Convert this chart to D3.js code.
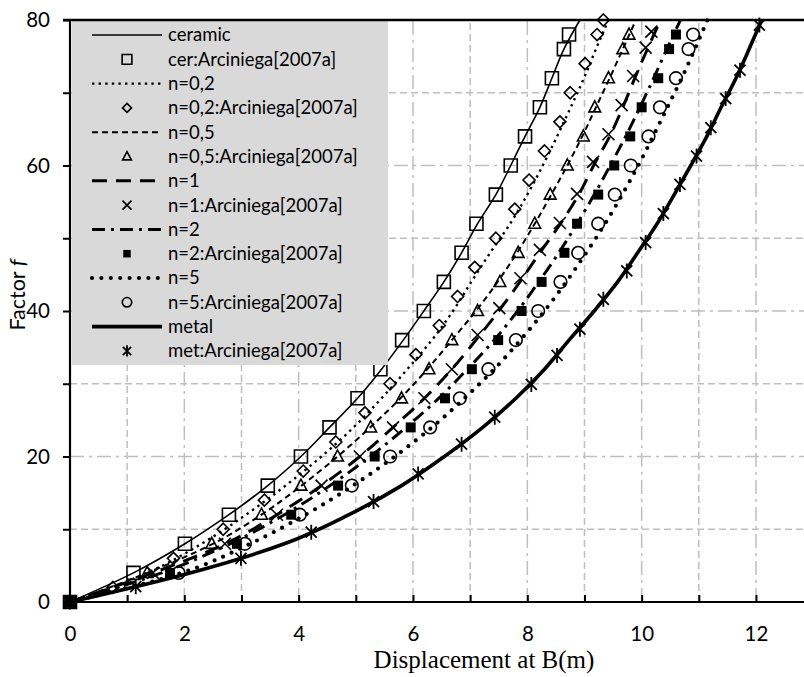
<!DOCTYPE html>
<html><head><meta charset="utf-8">
<script src="https://cdn.jsdelivr.net/npm/d3@7"></script>
<style>body{margin:0;background:#fff}svg{display:block}</style></head>
<body><svg id="c" width="804" height="677"></svg>
<script>
// ---------- data ----------
const lineF = [0,4,8,12,16,20,24,28,32,36,40,44,48,52,56,60,64,68,72,76,80];
const ceramicLineX = [0,1.11,2.01,2.78,3.46,4.04,4.54,5.03,5.45,5.83,6.19,6.54,6.85,7.13,7.45,7.71,7.96,8.22,8.43,8.64,8.92];
const n02LineX     = [0,1.35,2.3,3.08,3.77,4.4,4.96,5.45,5.9,6.33,6.7,7.02,7.35,7.7,8.0,8.27,8.52,8.76,8.99,9.2,9.42];
const n05LineX     = [0,1.35,2.5,3.35,4.05,4.68,5.25,5.78,6.25,6.68,7.1,7.48,7.82,8.13,8.42,8.7,8.96,9.2,9.44,9.67,9.9];
const n1LineX      = [0,1.45,2.72,3.62,4.4,5.07,5.65,6.2,6.68,7.1,7.5,7.87,8.22,8.58,8.9,9.16,9.44,9.67,9.88,10.1,10.33];
const n2LineX      = [0,1.6,2.8,3.75,4.55,5.25,5.88,6.45,6.95,7.42,7.83,8.2,8.55,8.87,9.17,9.45,9.72,9.97,10.21,10.44,10.68];
const n5LineX      = [0,1.95,3.15,4.12,4.95,5.68,6.33,6.9,7.42,7.88,8.3,8.68,9.03,9.36,9.66,9.94,10.2,10.45,10.7,10.93,11.15];
const metalLineX   = [0,2.1,3.75,4.88,5.8,6.55,7.22,7.8,8.3,8.73,9.17,9.58,9.93,10.27,10.57,10.86,11.14,11.39,11.65,11.88,12.1];

const cerMarkF = [0,4,8,12,16,20,24,28,32,36,40,44,48,52,56,60,64,68,72,76,78];
const cerMarkX = [0,1.11,2.01,2.78,3.46,4.04,4.54,5.03,5.43,5.81,6.19,6.54,6.85,7.11,7.45,7.71,7.96,8.22,8.43,8.64,8.73];
const n02MarkF = [0,2,6,10,14,18,22,26,30,34,38,42,46,50,54,58,62,66,70,74,78,80];
const n02MarkX = [0,0.75,1.81,2.68,3.4,4.08,4.65,5.16,5.6,6.05,6.46,6.78,7.08,7.45,7.78,8.03,8.3,8.57,8.75,9.01,9.22,9.33];
const n05MarkF = [0,4,8,12,16,20,24,28,32,36,40,44,48,52,56,60,64,68,72,76,78];
const n05MarkX = [0,1.35,2.48,3.35,4.04,4.68,5.26,5.8,6.28,6.68,7.13,7.52,7.84,8.13,8.4,8.7,8.98,9.18,9.42,9.67,9.78];
const n1MarkF  = [0,4,8,12,16,20,24,28,32,36.7,40.4,44.5,48.4,52.1,56.1,60.5,64.3,68.3,72.3,76.2,78.4];
const n1MarkX  = [0,1.45,2.71,3.62,4.4,5.07,5.65,6.2,6.68,7.13,7.51,7.88,8.22,8.57,8.87,9.15,9.42,9.65,9.85,10.07,10.17];
const n2MarkF  = [0,4,8,12,16,20,24,28,32,36,40,44,48,52,56,60,64,68,72,76,78];
const n2MarkX  = [0,1.75,2.92,3.87,4.69,5.33,5.96,6.56,7.03,7.49,7.9,8.25,8.65,8.87,9.24,9.52,9.8,10.0,10.29,10.48,10.6];
const n5MarkF  = [0,4,8,12,16,20,24,28,32,36,40,44,48,52,56,60,64,68,72,76,78];
const n5MarkX  = [0,1.9,3.06,4.02,4.93,5.6,6.3,6.82,7.32,7.8,8.19,8.58,8.89,9.24,9.53,9.81,10.12,10.32,10.6,10.82,10.9];
const metMarkF = [0,2.1,6.0,9.6,13.8,17.6,21.7,25.4,29.9,33.9,37.5,41.6,45.5,49.4,53.4,57.4,61.3,65.2,69.2,73.1,79.3];
const metMarkX = [0,1.15,2.99,4.22,5.31,6.09,6.85,7.43,8.07,8.52,8.92,9.33,9.74,10.07,10.38,10.67,10.96,11.21,11.47,11.72,12.06];

const xTickValues = [0,1,2,3,4,5,6,7,8,9,10,11,12];
const xTickLabels = ["0","","2","","4","","6","","8","","10","","12"];
const yTickValues = [0,10,20,30,40,50,60,70,80];
const yTickLabels = ["0","","20","","40","","60","","80"];

const legendNames = ["ceramic","cer:Arciniega[2007a]","n=0,2","n=0,2:Arciniega[2007a]","n=0,5","n=0,5:Arciniega[2007a]",
  "n=1","n=1:Arciniega[2007a]","n=2","n=2:Arciniega[2007a]","n=5","n=5:Arciniega[2007a]","metal","met:Arciniega[2007a]"];

// ---------- styles ----------
const lineStyles = {
  ceramic:{w:1.6,dash:null,cap:"butt"},
  n02:{w:2.4,dash:"2.4 4.2",cap:"butt"},
  n05:{w:2,dash:"6 4",cap:"butt"},
  n1:{w:3,dash:"15 9",cap:"butt"},
  n2:{w:3,dash:"13 6 3 6",cap:"butt"},
  n5:{w:4.2,dash:"0 9.4",cap:"round"},
  metal:{w:3.6,dash:null,cap:"butt"}
};
const series = [
  {key:"ceramic",lx:ceramicLineX, mx:cerMarkX, mf:cerMarkF, marker:"square"},
  {key:"n02",lx:n02LineX, mx:n02MarkX, mf:n02MarkF, marker:"diamond"},
  {key:"n05",lx:n05LineX, mx:n05MarkX, mf:n05MarkF, marker:"triangle"},
  {key:"n1",lx:n1LineX, mx:n1MarkX, mf:n1MarkF, marker:"x"},
  {key:"n2",lx:n2LineX, mx:n2MarkX, mf:n2MarkF, marker:"fsquare"},
  {key:"n5",lx:n5LineX, mx:n5MarkX, mf:n5MarkF, marker:"circle"},
  {key:"metal",lx:metalLineX, mx:metMarkX, mf:metMarkF, marker:"star"}
];

function markerPath(type, k){
  k = k||1;
  switch(type){
    case "square": {const h=6.5*k; return `M${-h},${-h}H${h}V${h}H${-h}Z`;}
    case "fsquare": {const h=5*k; return `M${-h},${-h}H${h}V${h}H${-h}Z`;}
    case "diamond": {const h=6*k; return `M0,${-h}L${h},0L0,${h}L${-h},0Z`;}
    case "triangle": {const h=6.5*k; return `M0,${-h}L${h*0.9},${h*0.7}L${-h*0.9},${h*0.7}Z`;}
    case "x": {const h=6*k; return `M${-h},${-h}L${h},${h}M${h},${-h}L${-h},${h}`;}
    case "circle": {const r=6.3*k; return `M${r},0A${r},${r} 0 1,1 ${-r},0A${r},${r} 0 1,1 ${r},0Z`;}
    case "star": {const h=5.5*k, v=7.5*k; return `M${-h},${-h}L${h},${h}M${h},${-h}L${-h},${h}M0,${-v}V${v}`;}
  }
}
function styleMarker(sel, type){
  if(type==="fsquare") sel.attr("fill","#000").attr("stroke","none");
  else sel.attr("fill","none").attr("stroke","#000").attr("stroke-width",type==="star"?1.8:1.6);
}

// ---------- chart ----------
const svg = d3.select("#c");
const X = d3.scaleLinear().domain([0,12.84]).range([70,804]);
const Y = d3.scaleLinear().domain([0,80]).range([602,20]);
const grid = svg.append("g");
const gridColor = "#bfbfbf";
xTickValues.filter(v=>v>0).forEach(v=>{
  grid.append("line").attr("x1",X(v)).attr("x2",X(v)).attr("y1",Y(0)).attr("y2",Y(80))
    .attr("stroke",gridColor).attr("stroke-width",1.5)
    .attr("stroke-dasharray", v%2===0 ? "14 5 3 5" : "7 4");
});
yTickValues.filter(v=>v>0 && v<80).forEach(v=>{
  grid.append("line").attr("x1",X(0)).attr("x2",804).attr("y1",Y(v)).attr("y2",Y(v))
    .attr("stroke",gridColor).attr("stroke-width",1.5)
    .attr("stroke-dasharray", v%20===0 ? "14 5 3 5" : "7 4");
});

const lineGen = d3.line().x(d=>X(d[0])).y(d=>Y(d[1])).curve(d3.curveMonotoneY);
const plot = svg.append("g");
series.forEach(s=>{
  const st = lineStyles[s.key];
  plot.append("path").datum(s.lx.map((x,i)=>[x,lineF[i]]))
    .attr("d",lineGen).attr("fill","none").attr("stroke","#000")
    .attr("stroke-width",st.w).attr("stroke-linecap",st.cap)
    .attr("stroke-dasharray",st.dash);
});
series.forEach(s=>{
  plot.selectAll(null).data(s.mx.map((x,i)=>[x,s.mf[i]])).join("path")
    .attr("transform",d=>`translate(${X(d[0])},${Y(d[1])})`)
    .attr("d",markerPath(s.marker)).call(styleMarker,s.marker);
});

// axes
const font = "Lato, 'Open Sans', sans-serif";
const gx = svg.append("g").attr("transform",`translate(0,${Y(0)})`)
  .call(d3.axisBottom(X).tickValues(xTickValues).tickSizeInner(-7).tickSizeOuter(0).tickPadding(24)
    .tickFormat((d,i)=>xTickLabels[i]));
const gy = svg.append("g").attr("transform",`translate(${X(0)},0)`)
  .call(d3.axisLeft(Y).tickValues(yTickValues).tickSize(7).tickPadding(13)
    .tickFormat((d,i)=>yTickLabels[i]));
[gx,gy].forEach(g=>{
  g.selectAll("path.domain").attr("stroke","#000").attr("stroke-width",2.2);
  g.selectAll(".tick line").attr("stroke","#000").attr("stroke-width",2);
  g.selectAll("text").attr("font-family",font).attr("font-size",20.5).attr("fill","#000");
});
gy.select("path.domain").attr("d",`M0,${Y(80)}V${Y(0)}`);
gx.select("path.domain").attr("d",`M${X(0)-1},0H804`);

// legend
const lg = svg.append("g");
lg.append("rect").attr("x",72).attr("y",21).attr("width",316).attr("height",344).attr("fill","#d9d9d9");
legendNames.forEach((name,i)=>{
  const yy = 35 + 24.3*i;
  const s = series[Math.floor(i/2)];
  if(i%2===0){
    const st = lineStyles[s.key];
    lg.append("line").attr("x1",92).attr("x2",162).attr("y1",yy).attr("y2",yy)
      .attr("stroke","#000").attr("stroke-width",st.w).attr("stroke-linecap",st.cap)
      .attr("stroke-dasharray",st.dash);
  } else {
    lg.append("path").attr("transform",`translate(127,${yy})`)
      .attr("d",markerPath(s.marker,0.75)).call(styleMarker,s.marker);
  }
  lg.append("text").attr("x",168).attr("y",yy).attr("dy","0.35em")
    .attr("font-family",font).attr("font-size",18.5).attr("fill","#000").text(name);
});

// top border
svg.append("line").attr("x1",63).attr("x2",804).attr("y1",Y(80)).attr("y2",Y(80))
  .attr("stroke","#000").attr("stroke-width",2.5);

// titles
svg.append("text").attr("x",484).attr("y",668).attr("text-anchor","middle")
  .attr("font-family","'Liberation Serif','Times New Roman',serif").attr("font-size",25)
  .text("Displacement at B(m)");
const yt = svg.append("text").attr("transform","translate(25,295) rotate(-90)").attr("text-anchor","middle")
  .attr("font-family",font).attr("font-size",21.5);
yt.append("tspan").text("Factor ");
yt.append("tspan").attr("font-style","italic").text("f");
</script></body></html>
